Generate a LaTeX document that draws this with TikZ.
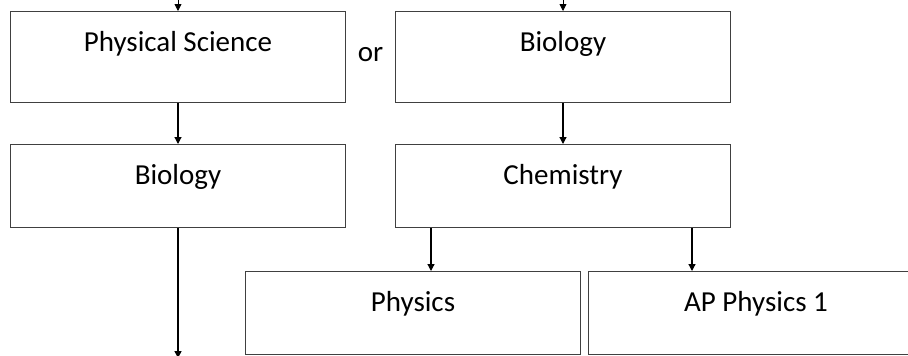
\documentclass[tikz,border=0pt]{standalone}
\usepackage{fontspec}
\setmainfont{Carlito}
\usetikzlibrary{arrows.meta,positioning,calc}
\definecolor{boxline}{HTML}{404040}

\begin{document}
\begin{tikzpicture}[
    >={Triangle[width=7pt,length=7pt]},
    every node/.style={font=\fontsize{29}{34}\selectfont},
    coursebox/.style={
        draw=boxline, line width=1pt, inner sep=0pt,
        minimum width=335pt, text height=40pt, text depth=43pt
    },
    tallbox/.style={coursebox, text depth=51pt},
    flowarrow/.style={->, black, line width=1.2pt},
]

% ===== frame =====
\useasboundingbox (0,0) rectangle (908pt,-356pt);
\clip (0,0) rectangle (908pt,-356pt);

% ===== first choice =====
\node[tallbox, anchor=north west] (physci) at (10pt,-11pt) {Physical Science};
\node[tallbox, right=49pt of physci] (biotop) {Biology};
\node[yshift=2pt] (orword) at ($(physci.east)!0.5!(biotop.west)$) {or};

% ===== second year =====
\node[coursebox, below=41pt of physci] (bioleft) {Biology};
\node[coursebox, below=41pt of biotop] (chem) {Chemistry};

% ===== physics options =====
\node[coursebox, below=43pt of chem.south west, anchor=north west, xshift=-150pt] (physics) {Physics};
\node[coursebox, right=7pt of physics] (apphys) {AP Physics 1};

% ===== free ends =====
\coordinate[above=11pt of physci.north] (inL);
\coordinate[above=11pt of biotop.north] (inR);
\coordinate[below=130pt of bioleft.south] (outL);
\coordinate (chemL) at ($(chem.south west)+(36pt,0)$);
\coordinate (chemR) at ($(chem.south west)+(297pt,0)$);

% ===== arrows =====
\draw[flowarrow, line width=0.8pt] (inL) -- (physci.north);
\draw[flowarrow, line width=0.8pt] (inR) -- (biotop.north);
\draw[flowarrow] (physci.south) -- (bioleft.north);
\draw[flowarrow] (biotop.south) -- (chem.north);
\draw[flowarrow, line width=1.6pt] (bioleft.south) -- (outL);
\draw[flowarrow] (chemL) -- (chemL |- physics.north);
\draw[flowarrow] (chemR) -- (chemR |- apphys.north);

\end{tikzpicture}
\end{document}
